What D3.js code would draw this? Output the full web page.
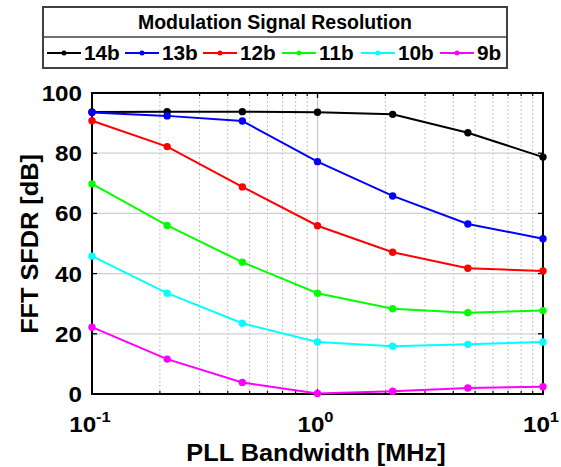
<!DOCTYPE html>
<html><head><meta charset="utf-8">
<script src="https://cdn.jsdelivr.net/npm/d3@7"></script>
<style>body{margin:0;background:#fff}svg{display:block}text{font-family:"Liberation Sans",Arial,sans-serif;font-weight:bold;fill:#000}</style>
</head><body><svg id="c" width="561" height="467"></svg>
<script>
const bandwidths = [0.1, 0.2154, 0.4642, 1, 2.154, 4.642, 10];
const seriesNames = ["14b", "13b", "12b", "11b", "10b", "9b"];
const seriesColors = ["#000000", "#0000ff", "#ff0000", "#00ff00", "#00ffff", "#ff00ff"];
const s14 = [93.7, 93.8, 93.8, 93.6, 92.9, 86.8, 78.7];
const s13 = [93.5, 92.4, 90.7, 77.2, 65.8, 56.5, 51.6];
const s12 = [90.8, 82.2, 68.8, 55.9, 47.1, 41.8, 40.9];
const s11 = [69.8, 56.0, 43.8, 33.5, 28.3, 27.0, 27.7];
const s10 = [45.8, 33.5, 23.5, 17.3, 15.9, 16.5, 17.3];
const s9  = [22.2, 11.6, 3.8, 0.2, 0.9, 2.0, 2.4];
const seriesValues = [s14, s13, s12, s11, s10, s9];
const yTicks = [0, 20, 40, 60, 80, 100];
const xTicks = [0.1, 1, 10];
const xTickExp = ["-1", "0", "1"];
const legendTitle = "Modulation Signal Resolution";
const xTitle = "PLL Bandwidth [MHz]";
const yTitle = "FFT SFDR [dB]";

const svg = d3.select("#c");
const L = 92, R = 543, T = 93, B = 394;
const x = d3.scaleLog().domain([0.1, 10]).range([L, R]);
const y = d3.scaleLinear().domain([0, 100]).range([B, T]);
const SX = 1.1;

function txt(g, px, py, s, size, anchor, rot) {
  return g.append("text")
    .attr("transform", `translate(${px},${py})` + (rot ? ` rotate(${rot})` : "") + ` scale(${SX},1)`)
    .attr("text-anchor", anchor).attr("font-size", size).text(s);
}

// grid
const grid = svg.append("g");
const minor = [];
[0.1, 1].forEach(d => { for (let k = 2; k <= 9; k++) minor.push(d * k); });
grid.selectAll(".mn").data(minor).join("line")
  .attr("x1", d => x(d)).attr("x2", d => x(d)).attr("y1", T).attr("y2", B)
  .attr("stroke", "#b0b0b0").attr("stroke-width", 1).attr("stroke-dasharray", "1.5,2.5");
grid.selectAll(".mj").data([1]).join("line")
  .attr("x1", d => x(d)).attr("x2", d => x(d)).attr("y1", T).attr("y2", B)
  .attr("stroke", "#c8c8c8").attr("stroke-width", 1.2);
grid.selectAll(".yg").data(yTicks.filter(v => v > 0 && v < 100)).join("line")
  .attr("x1", L).attr("x2", R).attr("y1", d => y(d)).attr("y2", d => y(d))
  .attr("stroke", "#d0d0d0").attr("stroke-width", 1.2);

// axes (inside ticks)
const ax = svg.append("g");
const tickLen = 5, mTick = 3;
yTicks.forEach(v => {
  ax.append("line").attr("x1", L).attr("x2", L + tickLen).attr("y1", y(v)).attr("y2", y(v)).attr("stroke", "#000").attr("stroke-width", 1.3);
  ax.append("line").attr("x1", R).attr("x2", R - tickLen).attr("y1", y(v)).attr("y2", y(v)).attr("stroke", "#000").attr("stroke-width", 1.3);
});
xTicks.forEach(v => {
  ax.append("line").attr("x1", x(v)).attr("x2", x(v)).attr("y1", B).attr("y2", B - tickLen).attr("stroke", "#000").attr("stroke-width", 1.3);
  ax.append("line").attr("x1", x(v)).attr("x2", x(v)).attr("y1", T).attr("y2", T + tickLen).attr("stroke", "#000").attr("stroke-width", 1.3);
});
minor.forEach(v => {
  ax.append("line").attr("x1", x(v)).attr("x2", x(v)).attr("y1", B).attr("y2", B - mTick).attr("stroke", "#000").attr("stroke-width", 1.2);
  ax.append("line").attr("x1", x(v)).attr("x2", x(v)).attr("y1", T).attr("y2", T + mTick).attr("stroke", "#000").attr("stroke-width", 1.2);
});
ax.append("rect").attr("x", L).attr("y", T).attr("width", R - L).attr("height", B - T)
  .attr("fill", "none").attr("stroke", "#000").attr("stroke-width", 2);

// series
const line = d3.line().x((d, i) => x(bandwidths[i])).y(d => y(d));
seriesValues.forEach((vals, si) => {
  const g = svg.append("g");
  g.append("path").attr("d", line(vals)).attr("fill", "none")
    .attr("stroke", seriesColors[si]).attr("stroke-width", 2);
  g.selectAll("circle").data(vals).join("circle")
    .attr("cx", (d, i) => x(bandwidths[i])).attr("cy", d => y(d)).attr("r", 3.7)
    .attr("fill", seriesColors[si]);
});

// tick labels
yTicks.forEach(v => txt(svg, L - 10, y(v) + 8, String(v), 22, "end"));
xTicks.forEach((v, i) => {
  const t = svg.append("text").attr("transform", `translate(${x(v) - 2},432) scale(${SX},1)`)
    .attr("text-anchor", "middle").attr("font-size", 22);
  t.append("tspan").text("10");
  t.append("tspan").attr("font-size", 15).attr("dy", -10).text(xTickExp[i]);
});

// axis titles
txt(svg, 316, 461, xTitle, 23, "middle");
txt(svg, 38, 244, yTitle, 23, "middle", -90);

// legend
const lg = svg.append("g");
lg.append("rect").attr("x", 43).attr("y", 7).attr("width", 464).attr("height", 61)
  .attr("fill", "#fff").attr("stroke", "#404040").attr("stroke-width", 2);
lg.append("line").attr("x1", 43).attr("x2", 507).attr("y1", 37).attr("y2", 37)
  .attr("stroke", "#404040").attr("stroke-width", 1.5);
lg.append("text").attr("x", 275).attr("y", 29).attr("text-anchor", "middle")
  .attr("font-size", 19.5).text(legendTitle);
const legX = [47, 125, 203, 282, 361, 440];
seriesNames.forEach((n, i) => {
  const lx = legX[i], ly = 53;
  lg.append("line").attr("x1", lx).attr("x2", lx + 34).attr("y1", ly).attr("y2", ly)
    .attr("stroke", seriesColors[i]).attr("stroke-width", 2);
  lg.append("circle").attr("cx", lx + 17).attr("cy", ly).attr("r", 2.5).attr("fill", seriesColors[i]);
  lg.append("text").attr("transform", `translate(${lx + 37},${ly + 7}) scale(1.04,1)`)
    .attr("font-size", 20).text(n);
});
</script></body></html>
